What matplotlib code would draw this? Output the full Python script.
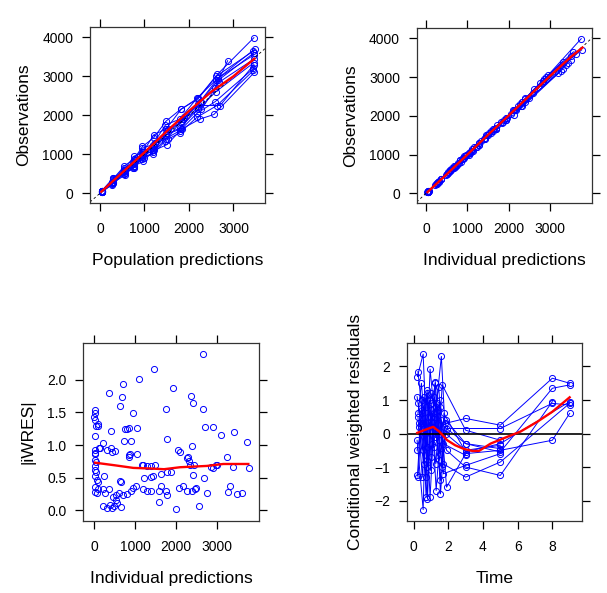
import matplotlib
matplotlib.use("Agg")
import matplotlib.pyplot as plt

plt.rcParams["font.family"] = ["Liberation Sans", "DejaVu Sans"]

# ---- observations vs population / individual predictions (one list per subject)
dv = [
    [70, 380, 600, 950, 1050, 1500, 1650, 2150, 2450, 3050, 3990],
    [45, 300, 650, 780, 1150, 1250, 1750, 1900, 2450, 2900, 3700],
    [40, 260, 580, 740, 1050, 1200, 1600, 1850, 2350, 2950, 3550],
    [55, 330, 520, 850, 900, 1300, 1400, 1950, 2150, 2850, 3450],
    [40, 250, 540, 680, 950, 1100, 1500, 1680, 2150, 2600, 3350],
    [35, 230, 500, 650, 880, 1050, 1400, 1600, 2050, 2350, 3200],
    [42, 270, 460, 700, 820, 1100, 1250, 1650, 1900, 2020, 3100],
    [60, 360, 700, 880, 1200, 1420, 1850, 2150, 2420, 3000, 3650],
    [45, 290, 560, 700, 980, 1100, 1500, 1650, 2250, 2250, 3300],
    [48, 300, 600, 770, 1000, 1200, 1550, 1820, 2300, 2700, 3400],
    [30, 220, 500, 640, 920, 1000, 1350, 1550, 1950, 2250, 3150],
    [70, 380, 600, 850, 1050, 1300, 1650, 1900, 2350, 2900, 3600],
]
pred = [
    [45, 290, 550, 760, 960, 1210, 1490, 1820, 2210, 2640, 3460],
    [40, 280, 530, 750, 940, 1190, 1470, 1790, 2190, 2600, 3480],
    [35, 270, 540, 770, 960, 1200, 1500, 1850, 2250, 2650, 3460],
    [50, 300, 560, 780, 980, 1230, 1520, 1880, 2280, 2680, 3470],
    [42, 285, 545, 760, 950, 1200, 1480, 1800, 2200, 2600, 3460],
    [38, 275, 535, 755, 945, 1195, 1475, 1790, 2180, 2590, 3450],
    [48, 295, 555, 770, 970, 1220, 1510, 1840, 2240, 2560, 3470],
    [44, 288, 548, 765, 955, 1205, 1485, 1810, 2205, 2610, 3450],
    [40, 282, 542, 762, 952, 1202, 1482, 1812, 2202, 2700, 3460],
    [46, 292, 552, 768, 962, 1212, 1492, 1822, 2212, 2580, 2870],
    [36, 272, 532, 752, 942, 1192, 1472, 1792, 2182, 2630, 3450],
    [52, 302, 562, 782, 982, 1232, 1522, 1860, 2260, 2660, 3460],
]
ipred = [
    [68, 370, 610, 920, 1070, 1460, 1680, 2100, 2480, 2950, 3750],
    [46, 305, 630, 800, 1120, 1280, 1710, 1930, 2400, 2830, 3760],
    [42, 270, 570, 760, 1030, 1220, 1580, 1870, 2320, 2850, 3500],
    [54, 325, 530, 830, 920, 1270, 1430, 1920, 2180, 2760, 3500],
    [41, 255, 535, 700, 940, 1120, 1480, 1700, 2130, 2580, 3420],
    [36, 240, 505, 670, 890, 1070, 1390, 1620, 2060, 2400, 3300],
    [44, 272, 475, 705, 840, 1090, 1280, 1640, 1930, 2120, 3200],
    [58, 350, 680, 880, 1170, 1430, 1800, 2140, 2400, 2900, 3560],
    [45, 292, 555, 720, 970, 1130, 1490, 1690, 2230, 2320, 3380],
    [49, 298, 590, 775, 995, 1215, 1530, 1830, 2270, 2620, 3300],
    [32, 228, 495, 655, 905, 1030, 1340, 1580, 1960, 2300, 3250],
    [66, 360, 590, 830, 1030, 1280, 1620, 1880, 2320, 2820, 3620],
]
smooth_pred_x = [30, 500, 1000, 1500, 2000, 2500, 3000, 3470]
smooth_pred_y = [40, 530, 1050, 1590, 2110, 2600, 3000, 3450]
smooth_ipred_x = [35, 500, 1000, 1500, 2000, 2500, 3000, 3500, 3780]
smooth_ipred_y = [30, 490, 1000, 1510, 2010, 2520, 3030, 3520, 3760]

# ---- |iWRES| vs individual predictions
iwres_ipred = [
    2665, 1460, 1100, 694, 1932, 359, 2364, 680, 2421, 636, 2665, 1760, 954,
    10, 15, 5, 20, 50, 90, 743, 792, 856, 408, 1051, 2714, 2895, 3105, 3423,
    10, 1785, 734, 889, 3741, 220, 2396, 139, 301, 399, 518, 440, 12, 18, 30,
    2054, 841, 860, 1037, 3237, 2274, 2307, 10, 50, 1166, 1280, 1378, 2339,
    2846, 2975, 3402, 3775, 10, 12, 50, 1638, 1768, 1866, 2421, 1215, 1378,
    1427, 20, 75, 90, 236, 660, 2681, 1622, 2063, 2160, 1019, 954, 1182, 1280,
    3318, 3269, 10, 15, 75, 204, 367, 270, 530, 465, 611, 709, 790, 889, 1378,
    1574, 1752, 1768, 2274, 2462, 2486, 2747, 3481, 3611, 1590, 204, 301, 432,
    481, 383, 660, 1997, 2568, 563, 530, 1180, 1490, 640, 2400, 2450, 2100,
    2300, 2900, 3000, 100, 110, 90, 870,
]
iwres_abs = [
    2.39, 2.16, 2.01, 1.93, 1.87, 1.80, 1.75, 1.73, 1.65, 1.60, 1.56, 1.56, 1.49,
    1.54, 1.49, 1.43, 1.38, 1.29, 1.29, 1.25, 1.24, 1.26, 1.22, 1.26, 1.28, 1.28,
    1.16, 1.20, 1.14, 1.09, 1.06, 1.06, 1.04, 1.03, 0.99, 0.95, 0.93, 0.95, 0.91,
    0.90, 0.92, 0.88, 0.86, 0.92, 0.85, 0.82, 0.86, 0.82, 0.80, 0.76, 0.77, 0.74,
    0.69, 0.68, 0.68, 0.70, 0.66, 0.70, 0.66, 0.65, 0.68, 0.62, 0.59, 0.55, 0.58,
    0.59, 0.54, 0.50, 0.51, 0.52, 0.52, 0.46, 0.44, 0.52, 0.43, 0.49, 0.38, 0.34,
    0.37, 0.37, 0.34, 0.32, 0.30, 0.37, 0.28, 0.36, 0.28, 0.27, 0.32, 0.32, 0.27,
    0.24, 0.20, 0.26, 0.24, 0.25, 0.29, 0.29, 0.30, 0.29, 0.24, 0.29, 0.32, 0.34,
    0.26, 0.25, 0.26, 0.12, 0.07, 0.03, 0.04, 0.07, 0.08, 0.05, 0.02, 0.06, 0.11,
    0.16, 0.70, 0.70, 0.45, 0.30, 0.70, 0.90, 0.82, 0.65, 0.70, 1.32, 0.95, 0.33,
    0.87,
]
smooth_iwres_x = [17, 500, 954, 1400, 1706, 2095, 2747, 3155, 3766]
smooth_iwres_y = [0.73, 0.69, 0.65, 0.64, 0.63, 0.66, 0.68, 0.71, 0.71]

# ---- CWRES vs time (one list per subject)
time = [
    [0.25, 0.5, 0.75, 1.0, 1.3, 1.6, 1.8, 3, 5, 8, 9],
    [0.22, 0.55, 0.8, 1.05, 1.25, 1.55, 1.85, 3, 5, 8, 9],
    [0.2, 0.55, 0.7, 0.95, 1.2, 1.45, 1.7, 3, 5, 9],
    [0.3, 0.6, 0.8, 1.0, 1.25, 1.5, 1.9, 3, 5, 8, 9],
    [0.25, 0.5, 0.75, 1.1, 1.3, 1.6, 1.9, 3, 5, 8],
    [0.2, 0.45, 0.7, 0.95, 1.3, 1.55, 1.75, 3, 5, 9],
    [0.25, 0.5, 0.8, 1.05, 1.25, 1.5, 1.95, 5, 8, 9],
    [0.28, 0.52, 0.78, 1.0, 1.2, 1.45, 1.65, 3, 5],
    [0.22, 0.48, 0.72, 1.02, 1.28, 1.52, 1.72, 3, 5],
    [0.3, 0.58, 0.85, 1.08, 1.35, 1.62, 1.85, 3, 5],
    [0.25, 0.45, 0.68, 0.92, 1.15, 1.4, 1.7, 3],
    [0.2, 0.5, 0.76, 0.98, 1.22, 1.48, 1.78, 3, 5],
]
cwres = [
    [1.85, 0.6, -0.4, 1.2, 0.8, 2.3, 0.3, 0.45, 0.25, 1.65, 1.5],
    [1.7, 2.37, -0.8, 0.9, 1.5, -1.8, 0.4, -0.3, -0.55, 1.35, 1.45],
    [-0.2, -2.27, 0.8, -1.9, 0.6, 1.4, -0.9, -1.3, -0.85, 0.9],
    [0.3, 1.1, -1.95, 0.7, -0.1, 1.0, -1.6, -0.6, -0.5, -0.2, 0.6],
    [0.5, -1.3, 1.0, 0.2, -1.7, 0.4, -0.5, -1.0, -1.25, 0.95],
    [1.1, 0.2, -1.3, 1.92, 0.0, -1.4, 0.6, -0.55, -0.3, 0.95],
    [-1.3, 0.7, -1.0, 0.3, 1.55, -0.6, 0.15, 0.15, 0.9, 0.85],
    [0.9, -0.5, 1.3, -0.7, 1.1, -0.2, 1.45, 0.1, -0.2],
    [-1.25, 1.0, -1.9, 0.5, -0.9, 0.8, -1.2, -0.95, -0.6],
    [0.2, -0.9, 0.5, -0.3, 0.9, -1.0, 0.0, -0.5, -0.35],
    [0.6, 1.5, 0.0, 1.0, -0.4, 0.7, -0.3, -0.65],
    [-0.5, 0.3, 1.2, -1.1, 0.5, -0.8, 0.2, -0.3, -0.45],
]
smooth_time_x = [0.21, 0.6, 1.13, 1.5, 1.94, 2.4, 2.9, 3.4, 3.77, 4.44, 5.2, 6.17, 7.13, 8.0, 9.0]
smooth_time_y = [0.02, 0.1, 0.2, 0.05, -0.2, -0.35, -0.46, -0.52, -0.52, -0.3, -0.14, 0.06, 0.35, 0.65, 1.08]

BLUE = "#0000ff"
RED = "#ff0000"


def style(ax):
    ax.tick_params(direction="out", length=6, width=0.9, labelsize=10,
                   top=True, right=True, labeltop=False, labelright=False)
    ax.tick_params(axis="x", pad=8)
    ax.tick_params(axis="y", pad=6)
    for s in ax.spines.values():
        s.set_linewidth(0.9)
        s.set_color("#333333")


def lines_by_id(ax, xs, ys):
    for x, y in zip(xs, ys):
        ax.plot(x, y, color=BLUE, lw=0.7, marker="o", ms=4.4, mfc="none",
                mec=BLUE, mew=0.7)


fig = plt.figure(figsize=(6.07, 5.93), dpi=100)

ax1 = fig.add_axes([0.1483, 0.6577, 0.2883, 0.2968])
ax2 = fig.add_axes([0.6865, 0.6577, 0.2893, 0.2951])
ax3 = fig.add_axes([0.1367, 0.1219, 0.2900, 0.3002])
ax4 = fig.add_axes([0.6700, 0.1219, 0.2893, 0.2991])

# panel 1
lines_by_id(ax1, pred, dv)
ax1.axline((0, 0), slope=1, color="black", lw=0.6, ls=(0, (3, 3)))
ax1.plot(smooth_pred_x, smooth_pred_y, color=RED, lw=1.7)
ax1.set_xlim(-225, 3710)
ax1.set_ylim(-250, 4265)
ax1.set_xticks([0, 1000, 2000, 3000])
ax1.set_yticks([0, 1000, 2000, 3000, 4000])
ax1.set_xlabel("Population predictions", fontsize=12.5, labelpad=12)
ax1.set_ylabel("Observations", fontsize=12.5, labelpad=8)

# panel 2
lines_by_id(ax2, ipred, dv)
ax2.axline((0, 0), slope=1, color="black", lw=0.6, ls=(0, (3, 3)))
ax2.plot(smooth_ipred_x, smooth_ipred_y, color=RED, lw=1.7)
ax2.set_xlim(-225, 4017)
ax2.set_ylim(-250, 4265)
ax2.set_xticks([0, 1000, 2000, 3000])
ax2.set_yticks([0, 1000, 2000, 3000, 4000])
ax2.set_xlabel("Individual predictions", fontsize=12.5, labelpad=12)
ax2.set_ylabel("Observations", fontsize=12.5, labelpad=8)

# panel 3
ax3.plot(iwres_ipred, iwres_abs, ls="none", marker="o", ms=4.4, mfc="none",
         mec=BLUE, mew=0.7)
ax3.plot(smooth_iwres_x, smooth_iwres_y, color=RED, lw=1.7)
ax3.set_xlim(-276, 4027)
ax3.set_ylim(-0.16, 2.57)
ax3.set_xticks([0, 1000, 2000, 3000])
ax3.set_yticks([0.0, 0.5, 1.0, 1.5, 2.0])
ax3.set_yticklabels(["0.0", "0.5", "1.0", "1.5", "2.0"])
ax3.set_xlabel("Individual predictions", fontsize=12.5, labelpad=12)
ax3.set_ylabel("|iWRES|", fontsize=12.5, labelpad=8)

# panel 4
lines_by_id(ax4, time, cwres)
ax4.axhline(0, color="black", lw=1.2)
ax4.plot(smooth_time_x, smooth_time_y, color=RED, lw=1.7)
ax4.set_xlim(-0.40, 9.73)
ax4.set_ylim(-2.60, 2.69)
ax4.set_xticks([0, 2, 4, 6, 8])
ax4.set_yticks([-2, -1, 0, 1, 2])
ax4.set_xlabel("Time", fontsize=12.5, labelpad=12)
ax4.set_ylabel("Conditional weighted residuals", fontsize=12.5, labelpad=8)

for ax in (ax1, ax2, ax3, ax4):
    style(ax)

fig.savefig("out.png", dpi=100)
